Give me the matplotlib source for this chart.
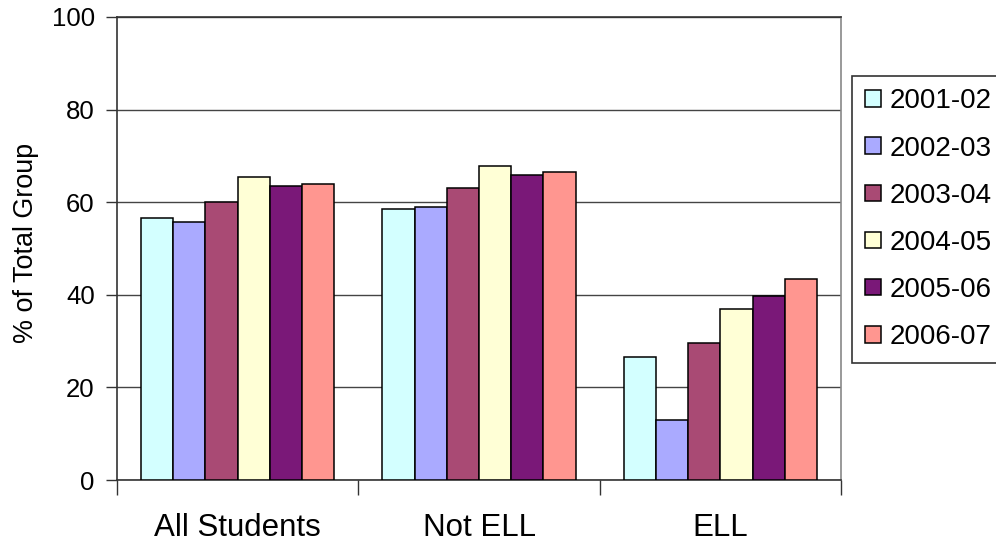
import matplotlib
matplotlib.use("Agg")
import matplotlib.pyplot as plt
import numpy as np

plt.rcParams['font.family'] = ['Liberation Sans', 'DejaVu Sans']

categories = ["All Students", "Not ELL", "ELL"]
years = ["2001-02", "2002-03", "2003-04", "2004-05", "2005-06", "2006-07"]
values = {
    "2001-02": [56.5, 58.5, 26.6],
    "2002-03": [55.8, 58.9, 13.0],
    "2003-04": [60.0, 63.1, 29.6],
    "2004-05": [65.4, 67.8, 36.9],
    "2005-06": [63.5, 65.8, 39.7],
    "2006-07": [63.9, 66.6, 43.5],
}
colors = ["#D3FFFF", "#AAAAFF", "#A94A74", "#FFFFD6", "#7A1878", "#FF9690"]
y_ticks = [0, 20, 40, 60, 80, 100]

fig = plt.figure(figsize=(9.96, 5.44), dpi=100)
ax = fig.add_axes([117 / 996, 1 - 480 / 544, 724 / 996, 463 / 544])

x = np.arange(len(categories))
n = len(years)
group_width = 0.8
bar_w = group_width / n
for i, (yr, col) in enumerate(zip(years, colors)):
    offs = -group_width / 2 + bar_w * (i + 0.5)
    ax.bar(x + offs, values[yr], width=bar_w, color=col, edgecolor="black",
           linewidth=1.1, label=yr, zorder=3)

ax.set_xlim(-0.5, 2.5)
ax.set_ylim(0, 100)
ax.set_yticks(y_ticks)
ax.set_yticklabels([str(t) for t in y_ticks])
ax.yaxis.grid(True, color="#444444", linewidth=1.0, zorder=0)
ax.set_axisbelow(True)

# group boundaries carry the tick marks, group centres carry the labels
ax.set_xticks([-0.5, 0.5, 1.5, 2.5])
ax.set_xticklabels([])
ax.set_xticks(x, minor=True)
ax.set_xticklabels(categories, minor=True)
ax.tick_params(axis="x", which="major", direction="out", length=11, width=1, color="#333333")
ax.tick_params(axis="x", which="minor", length=0, pad=24, labelsize=22.5)
ax.tick_params(axis="y", direction="out", length=8, width=1, color="#333333",
               pad=8, labelsize=18.5)

for side in ["left", "bottom", "top"]:
    ax.spines[side].set_color("#333333")
    ax.spines[side].set_linewidth(1.2)
ax.spines["right"].set_color("#888888")
ax.spines["right"].set_linewidth(1.2)

fig.text(26 / 996, 1 - 243 / 544, "% of Total Group", rotation=90,
         ha="center", va="center", fontsize=19.4)

leg = ax.legend(loc="upper left", bbox_to_anchor=(852 / 996, 1 - 76 / 544),
                bbox_transform=fig.transFigure, fontsize=20, frameon=True,
                fancybox=False, edgecolor="black", handlelength=0.58,
                handleheight=0.55, handletextpad=0.33, borderpad=0.45,
                labelspacing=0.76, borderaxespad=0)
leg.get_frame().set_linewidth(1.2)

fig.savefig("out.png", dpi=100)
